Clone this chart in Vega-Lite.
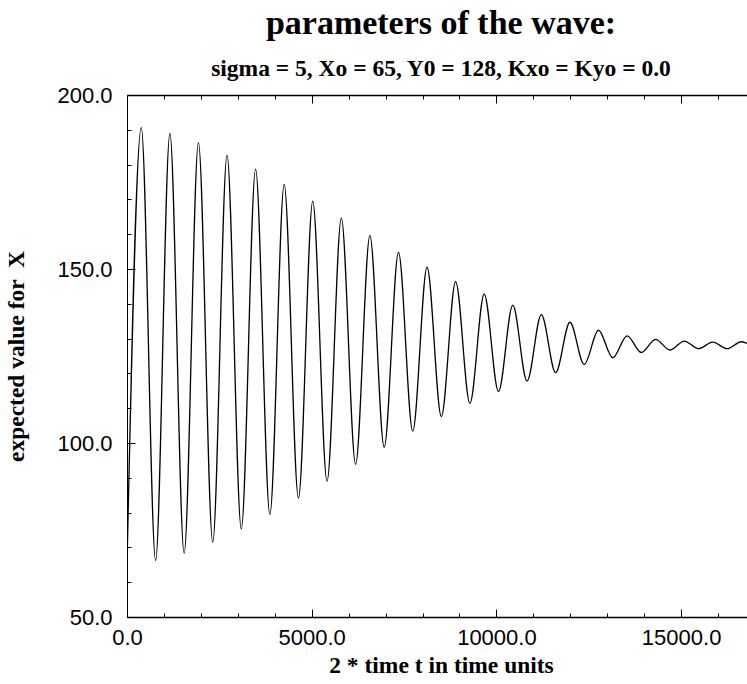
{
  "$schema": "https://vega.github.io/schema/vega-lite/v6.json",
  "width": 628,
  "height": 522,
  "autosize": {"type": "none"},
  "padding": {"left": 127, "top": 95, "right": 0, "bottom": 67},
  "background": "white",
  "title": {
    "text": "parameters of the wave:",
    "subtitle": "sigma = 5, Xo = 65, Y0 = 128, Kxo = Kyo = 0.0",
    "anchor": "middle",
    "font": "Liberation Serif",
    "fontSize": 34,
    "fontWeight": "bold",
    "color": "black",
    "subtitleFont": "Liberation Serif",
    "subtitleFontSize": 23.5,
    "subtitleFontWeight": "bold",
    "subtitleColor": "black",
    "subtitlePadding": 16,
    "offset": 4
  },
  "data": {
    "values": [
      {"t": 0, "v": 65.0},
      {"t": 387, "v": 190.6},
      {"t": 774, "v": 66.2},
      {"t": 1161, "v": 189.0},
      {"t": 1547, "v": 68.3},
      {"t": 1934, "v": 186.3},
      {"t": 2321, "v": 71.5},
      {"t": 2708, "v": 182.7},
      {"t": 3094, "v": 75.3},
      {"t": 3481, "v": 178.7},
      {"t": 3868, "v": 79.5},
      {"t": 4255, "v": 174.3},
      {"t": 4641, "v": 84.1},
      {"t": 5028, "v": 169.5},
      {"t": 5415, "v": 89.0},
      {"t": 5802, "v": 164.6},
      {"t": 6188, "v": 93.9},
      {"t": 6575, "v": 159.6},
      {"t": 6962, "v": 98.8},
      {"t": 7349, "v": 154.8},
      {"t": 7735, "v": 103.4},
      {"t": 8122, "v": 150.5},
      {"t": 8509, "v": 107.6},
      {"t": 8896, "v": 146.4},
      {"t": 9282, "v": 111.4},
      {"t": 9669, "v": 142.8},
      {"t": 10056, "v": 114.8},
      {"t": 10443, "v": 139.6},
      {"t": 10829, "v": 117.8},
      {"t": 11216, "v": 136.9},
      {"t": 11603, "v": 120.2},
      {"t": 11990, "v": 134.7},
      {"t": 12376, "v": 122.6},
      {"t": 12763, "v": 132.4},
      {"t": 13150, "v": 124.5},
      {"t": 13537, "v": 130.8},
      {"t": 13923, "v": 126.0},
      {"t": 14310, "v": 129.8},
      {"t": 14697, "v": 126.7},
      {"t": 15084, "v": 129.3},
      {"t": 15470, "v": 127.1},
      {"t": 15857, "v": 129.0},
      {"t": 16244, "v": 127.1},
      {"t": 16631, "v": 129.1},
      {"t": 17000, "v": 127.2}
    ]
  },
  "layer": [
    {
      "mark": {"type": "line", "interpolate": "monotone", "color": "black", "strokeWidth": 1.3, "clip": true},
      "encoding": {
        "x": {
          "field": "t", "type": "quantitative",
          "scale": {"domain": [0, 17000], "nice": false, "zero": false},
          "axis": {
            "orient": "bottom",
            "title": "2 * time t in time units",
            "domainWidth": 1.5,
            "values": [0,1000,2000,3000,4000,5000,6000,7000,8000,9000,10000,11000,12000,13000,14000,15000,16000,17000],
            "labelExpr": "datum.value % 5000 === 0 ? format(datum.value, '.1f') : ''",
            "tickSize": {"condition": {"test": "datum.value % 5000 === 0", "value": -8}, "value": -4},
            "labelPadding": 18,
            "titlePadding": 1
          }
        },
        "y": {
          "field": "v", "type": "quantitative",
          "scale": {"domain": [50, 200], "nice": false, "zero": false},
          "axis": {
            "orient": "left",
            "title": "expected value for \u00a0X",
            "values": [50,60,70,80,90,100,110,120,130,140,150,160,170,180,190,200],
            "labelExpr": "datum.value % 50 === 0 ? format(datum.value, '.1f') : ''",
            "tickSize": {"condition": {"test": "datum.value % 50 === 0", "value": -8}, "value": -4},
            "labelPadding": 23,
            "titlePadding": 28
          }
        }
      }
    },
    {
      "mark": {"type": "line", "interpolate": "monotone", "opacity": 0},
      "encoding": {
        "x": {
          "field": "t", "type": "quantitative",
          "scale": {"domain": [0, 17000], "nice": false, "zero": false},
          "axis": {
            "orient": "top",
            "title": null,
            "labels": false,
            "domain": true,
            "domainWidth": 1.5,
            "values": [0,1000,2000,3000,4000,5000,6000,7000,8000,9000,10000,11000,12000,13000,14000,15000,16000,17000],
            "tickSize": {"condition": {"test": "datum.value % 5000 === 0", "value": -8}, "value": -4}
          }
        },
        "y": {
          "field": "v", "type": "quantitative",
          "scale": {"domain": [50, 200], "nice": false, "zero": false},
          "axis": {
            "orient": "right",
            "title": null,
            "labels": false,
            "domain": true,
            "values": [50,60,70,80,90,100,110,120,130,140,150,160,170,180,190,200],
            "tickSize": {"condition": {"test": "datum.value % 50 === 0", "value": -8}, "value": -4}
          }
        }
      }
    }
  ],
  "resolve": {"scale": {"x": "independent", "y": "independent"}},
  "config": {
    "view": {"stroke": null},
    "axis": {
      "grid": false,
      "domainColor": "black",
      "domainWidth": 1,
      "tickColor": "black",
      "tickWidth": 1,
      "labelFont": "Liberation Sans",
      "labelFontSize": 22,
      "labelColor": "black",
      "labelOverlap": false,
      "labelFlush": false,
      "labelBound": false,
      "titleFont": "Liberation Serif",
      "titleFontSize": 23.5,
      "titleFontWeight": "bold",
      "titleColor": "black"
    }
  }
}
